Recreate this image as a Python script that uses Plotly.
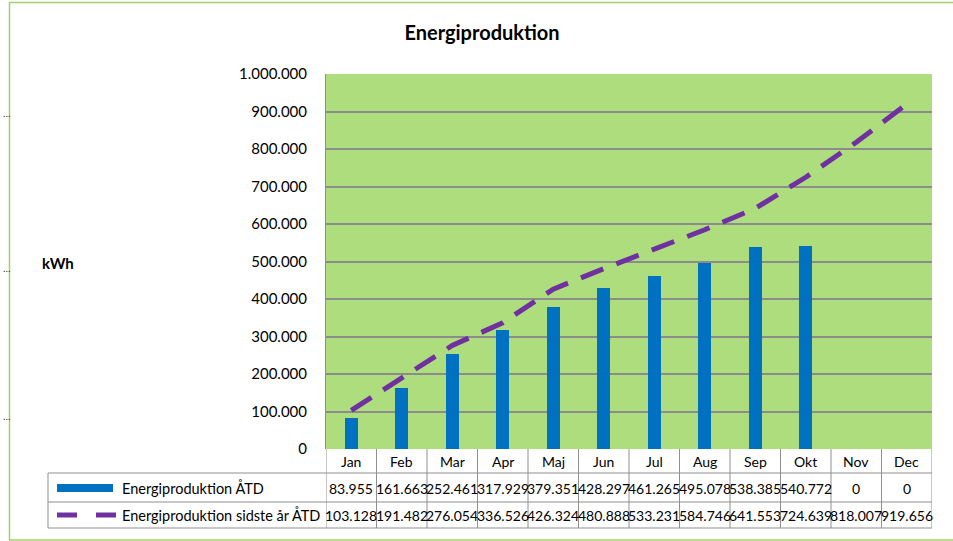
import plotly.graph_objects as go

months = ["Jan", "Feb", "Mar", "Apr", "Maj", "Jun", "Jul", "Aug", "Sep", "Okt", "Nov", "Dec"]
prod_atd = [83955, 161663, 252461, 317929, 379351, 428297, 461265, 495078, 538385, 540772, 0, 0]
prod_last = [103128, 191482, 276054, 336526, 426324, 480888, 533231, 584746, 641553, 724639, 818007, 919656]
name_bar = "Energiproduktion ÅTD"
name_line = "Energiproduktion sidste år ÅTD"
y_ticks = list(range(0, 1000001, 100000))

W, H = 953, 541
OFF = 0  # page body margin removed by post_script
L, R, T, B = 326, 932, 74, 449  # target pixel positions of plot area
PW, PH = R - L, B - T

def px(x):
    return (x - L) / PW

def py(y):
    return (B - y) / PH

def fmt(v):
    return f"{v:,}".replace(",", ".")

FONT = "Lato"
BLUE = "#0070C0"
PURPLE = "#7030A0"
GRID = "#8C8C8C"
TBL = "#8F8F8F"

fig = go.Figure()
fig.add_trace(go.Bar(x=months, y=prod_atd, name=name_bar, marker=dict(color=BLUE, line=dict(width=0)), width=0.26))
fig.add_trace(go.Scatter(x=months, y=prod_last, name=name_line, mode="lines",
                         line=dict(color=PURPLE, width=5, dash="24px,14px")))

shapes = []
ann = []
# outer chart border
shapes.append(dict(type="rect", xref="paper", yref="paper", x0=px(9.5), x1=px(970), y0=py(540), y1=py(2.5),
                   line=dict(color="#A3D16B", width=1.5), layer="below"))
# table vertical lines
for i in range(len(months) + 1):
    shapes.append(dict(type="line", xref="x", yref="paper", x0=i - 0.5, x1=i - 0.5, y0=py(449), y1=py(528),
                       line=dict(color=TBL, width=1)))
# table horizontal lines
for yy in [473, 502, 528]:
    shapes.append(dict(type="line", xref="paper", yref="paper", x0=px(48), x1=px(932), y0=py(yy), y1=py(yy),
                       line=dict(color=TBL, width=1)))
shapes.append(dict(type="line", xref="paper", yref="paper", x0=px(48), x1=px(48), y0=py(473), y1=py(528),
                   line=dict(color=TBL, width=1)))
# legend keys
shapes.append(dict(type="rect", xref="paper", yref="paper", x0=px(57), x1=px(113), y0=py(492), y1=py(484),
                   fillcolor=BLUE, line=dict(width=0)))
for a, b in [(57, 77), (96, 116)]:
    shapes.append(dict(type="line", xref="paper", yref="paper", x0=px(a), x1=px(b), y0=py(515), y1=py(515),
                       line=dict(color=PURPLE, width=5)))

tf = dict(family=FONT, size=14, color="#000000")
for m, v1, v2 in zip(months, prod_atd, prod_last):
    ann.append(dict(x=m, xref="x", y=py(461), yref="paper", text=m, showarrow=False, font=tf,
                    xanchor="center", yanchor="middle"))
    ann.append(dict(x=m, xref="x", y=py(488), yref="paper", text=fmt(v1), showarrow=False, font=tf,
                    xanchor="center", yanchor="middle"))
    ann.append(dict(x=m, xref="x", y=py(515), yref="paper", text=fmt(v2), showarrow=False, font=tf,
                    xanchor="center", yanchor="middle"))
ann.append(dict(x=px(120), xref="paper", y=py(488), yref="paper", text=name_bar, showarrow=False,
                font=dict(family=FONT, size=14.5, color="#000000"), xanchor="left", yanchor="middle"))
ann.append(dict(x=px(120), xref="paper", y=py(515), yref="paper", text=name_line, showarrow=False,
                font=dict(family=FONT, size=14.5, color="#000000"), xanchor="left", yanchor="middle"))
ann.append(dict(x=px(58), xref="paper", y=py(263), yref="paper", text="<b>kWh</b>", showarrow=False,
                font=dict(family=FONT, size=15, color="#000000"), xanchor="center", yanchor="middle"))
for yy in [113, 268, 416]:
    ann.append(dict(x=px(0.5), xref="paper", y=py(yy), yref="paper", text="…", showarrow=False, xanchor="left",
                    font=dict(family=FONT, size=10, color="#333333"), yanchor="middle"))

fig.update_layout(
    width=W, height=H,
    margin=dict(l=L - OFF, r=W - (R - OFF), t=T - OFF, b=H - (B - OFF), pad=0),
    paper_bgcolor="white",
    plot_bgcolor="#AEDD7E",
    showlegend=False,
    bargap=0,
    title=dict(text="<b>Energiproduktion</b>", x=(482 - OFF) / W, xref="container", xanchor="center",
               y=1 - (33 - OFF) / H, yref="container", yanchor="middle",
               font=dict(family=FONT, size=20, color="#000000")),
    xaxis=dict(type="category", categoryorder="array", categoryarray=months, range=[-0.5, 11.5],
               showticklabels=False, showgrid=False, zeroline=False, showline=False, ticks=""),
    yaxis=dict(range=[0, 1000000], tickvals=y_ticks, ticktext=[fmt(v) for v in y_ticks],
               showgrid=True, gridcolor=GRID, gridwidth=1.5, zeroline=False,
               showline=True, linecolor=TBL, linewidth=1,
               tickfont=dict(family=FONT, size=15, color="#000000"), ticks="", ticklabelstandoff=15),
    shapes=shapes,
    annotations=ann,
    font=dict(family=FONT),
)
fig.write_html("out.html", config={"displayModeBar": False},
               post_script="document.body.style.margin='0px';")
